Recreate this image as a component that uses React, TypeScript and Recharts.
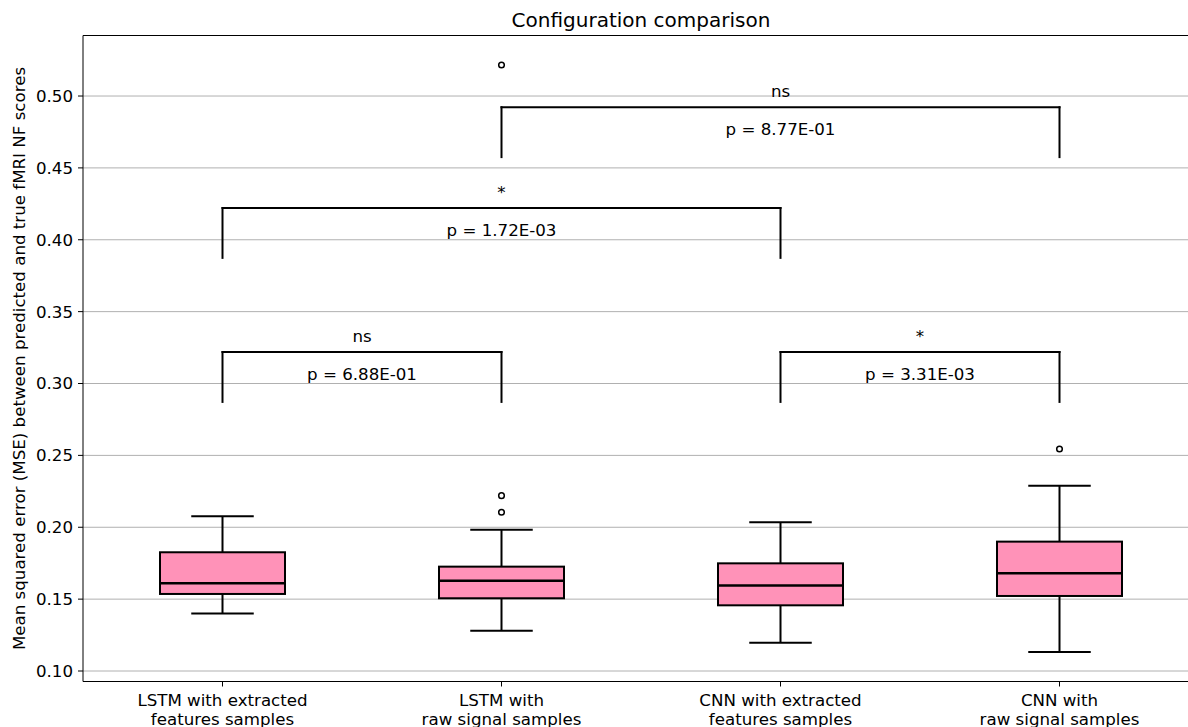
import {
  ComposedChart,
  Bar,
  XAxis,
  YAxis,
  CartesianGrid,
  ReferenceLine,
  Label,
} from "recharts";

const FONT = "DejaVu Sans";

const categories = [
  "LSTM with extracted features samples",
  "LSTM with raw signal samples",
  "CNN with extracted features samples",
  "CNN with raw signal samples",
];
const tickLines = [
  ["LSTM with extracted", "features samples"],
  ["LSTM with", "raw signal samples"],
  ["CNN with extracted", "features samples"],
  ["CNN with", "raw signal samples"],
];

// box statistics
const whiskerLow = [0.14, 0.128, 0.1197, 0.1132];
const q1 = [0.1536, 0.1506, 0.1457, 0.1522];
const median = [0.161, 0.1628, 0.1594, 0.168];
const q3 = [0.1826, 0.1726, 0.1749, 0.19];
const whiskerHigh = [0.2076, 0.1983, 0.2034, 0.2289];
const outliers = [[], [0.2104, 0.222, 0.5216], [], [0.2544]];

const yTicks = [0.1, 0.15, 0.2, 0.25, 0.3, 0.35, 0.4, 0.45, 0.5];
const yDomain = [0.0927, 0.5421];

// significance brackets
const bracketPairs = [
  [0, 1],
  [2, 3],
  [0, 2],
  [1, 3],
];
const bracketTop = [0.3219, 0.3219, 0.4221, 0.4922];
const bracketDrop = 0.0347;
const stars = ["ns", "*", "*", "ns"];
const pValues = ["6.88E-01", "3.31E-03", "1.72E-03", "8.77E-01"];

const data = categories.map((name, i) => ({
  name,
  range: [whiskerLow[i], whiskerHigh[i]],
  lo: whiskerLow[i],
  q1: q1[i],
  med: median[i],
  q3: q3[i],
  hi: whiskerHigh[i],
  outliers: outliers[i],
}));

function BoxShape(props: any) {
  const { x, y, width, height, payload } = props;
  const { lo, hi } = payload;
  const py = (v: number) => y + (height * (hi - v)) / (hi - lo);
  const cx = x + width / 2;
  const cap = width / 4;
  const s = { stroke: "#000", strokeWidth: 2 };
  return (
    <g>
      <line x1={cx} x2={cx} y1={py(hi)} y2={py(payload.q3)} {...s} />
      <line x1={cx} x2={cx} y1={py(payload.q1)} y2={py(lo)} {...s} />
      <line x1={cx - cap} x2={cx + cap} y1={py(hi)} y2={py(hi)} {...s} />
      <line x1={cx - cap} x2={cx + cap} y1={py(lo)} y2={py(lo)} {...s} />
      <rect
        x={x}
        y={py(payload.q3)}
        width={width}
        height={py(payload.q1) - py(payload.q3)}
        fill="#ff92b8"
        {...s}
      />
      <line x1={x} x2={x + width} y1={py(payload.med)} y2={py(payload.med)} stroke="#000" strokeWidth={2.5} />
      {payload.outliers.map((v: number, k: number) => (
        <circle key={k} cx={cx} cy={py(v)} r={2.8} fill="#fff" stroke="#000" strokeWidth={1.5} />
      ))}
    </g>
  );
}

function XTick(props: any) {
  const { x, y, payload } = props;
  const lines = tickLines[categories.indexOf(payload.value)] || [payload.value];
  return (
    <text x={x} y={y} textAnchor="middle" fontFamily={FONT} fontSize={16.67} fill="#000">
      {lines.map((l, i) => (
        <tspan key={i} x={x} dy={i === 0 ? 17.2 : 19.5}>
          {l}
        </tspan>
      ))}
    </text>
  );
}

const lineStyle = { stroke: "#000", strokeWidth: 2, strokeLinecap: "square" as const };

export default function App() {
  return (
    <div
      style={{
        position: "absolute",
        left: 0,
        top: 0,
        width: 1188,
        height: 727,
        overflow: "hidden",
        background: "#fff",
      }}
    >
      <div
        style={{
          position: "absolute",
          left: 83,
          width: 1116,
          top: 9.6,
          textAlign: "center",
          fontFamily: FONT,
          fontSize: 20,
          lineHeight: "20px",
          color: "#000",
        }}
      >
        Configuration comparison
      </div>
      <ComposedChart
        width={1210}
        height={727}
        data={data}
        margin={{ top: 35.5, right: 11, bottom: 0, left: 0 }}
      >
        <CartesianGrid vertical={false} stroke="#b0b0b0" strokeWidth={1} />
        <XAxis
          dataKey="name"
          type="category"
          height={45.5}
          tick={<XTick />}
          tickSize={5}
          tickMargin={2}
          axisLine={{ stroke: "#000", strokeWidth: 1 }}
          tickLine={{ stroke: "#000", strokeWidth: 1 }}
          interval={0}
        />
        <YAxis
          type="number"
          domain={yDomain}
          ticks={yTicks}
          allowDataOverflow
          width={83}
          tickSize={5}
          tickMargin={5}
          tickFormatter={(v: number) => v.toFixed(2)}
          tick={{ fontFamily: FONT, fontSize: 16.67, fill: "#000" }}
          axisLine={{ stroke: "#000", strokeWidth: 1 }}
          tickLine={{ stroke: "#000", strokeWidth: 1 }}
          label={{
            content: (p: any) => {
              const vb = p.viewBox || { x: 0, y: 35.5, width: 83, height: 646 };
              const lx = vb.x + 25;
              const ly = vb.y + vb.height / 2;
              return (
                <text
                  x={lx}
                  y={ly}
                  textAnchor="middle"
                  transform={`rotate(-90 ${lx} ${ly})`}
                  fontFamily={FONT}
                  fontSize={16.67}
                  fill="#000"
                >
                  Mean squared error (MSE) between predicted and true fMRI NF scores
                </text>
              );
            },
          }}
        />
        <ReferenceLine y={yDomain[1]} stroke="#000" strokeWidth={1} ifOverflow="visible" />
        <Bar dataKey="range" barSize={125} shape={<BoxShape />} isAnimationActive={false} />
        {bracketPairs.map(([a, b], i) => {
          const top = bracketTop[i];
          const bottom = top - bracketDrop;
          return [
            <ReferenceLine
              key={`h${i}`}
              segment={[
                { x: categories[a], y: top },
                { x: categories[b], y: top },
              ]}
              {...lineStyle}
            >
              <Label value={stars[i]} position="top" offset={10} fontFamily={FONT} fontSize={16.67} fill="#000" />
              <Label
                value={`p = ${pValues[i]}`}
                position="bottom"
                offset={16}
                fontFamily={FONT}
                fontSize={16.67}
                fill="#000"
              />
            </ReferenceLine>,
            <ReferenceLine
              key={`l${i}`}
              segment={[
                { x: categories[a], y: top },
                { x: categories[a], y: bottom },
              ]}
              {...lineStyle}
            />,
            <ReferenceLine
              key={`r${i}`}
              segment={[
                { x: categories[b], y: top },
                { x: categories[b], y: bottom },
              ]}
              {...lineStyle}
            />,
          ];
        })}
      </ComposedChart>
    </div>
  );
}
